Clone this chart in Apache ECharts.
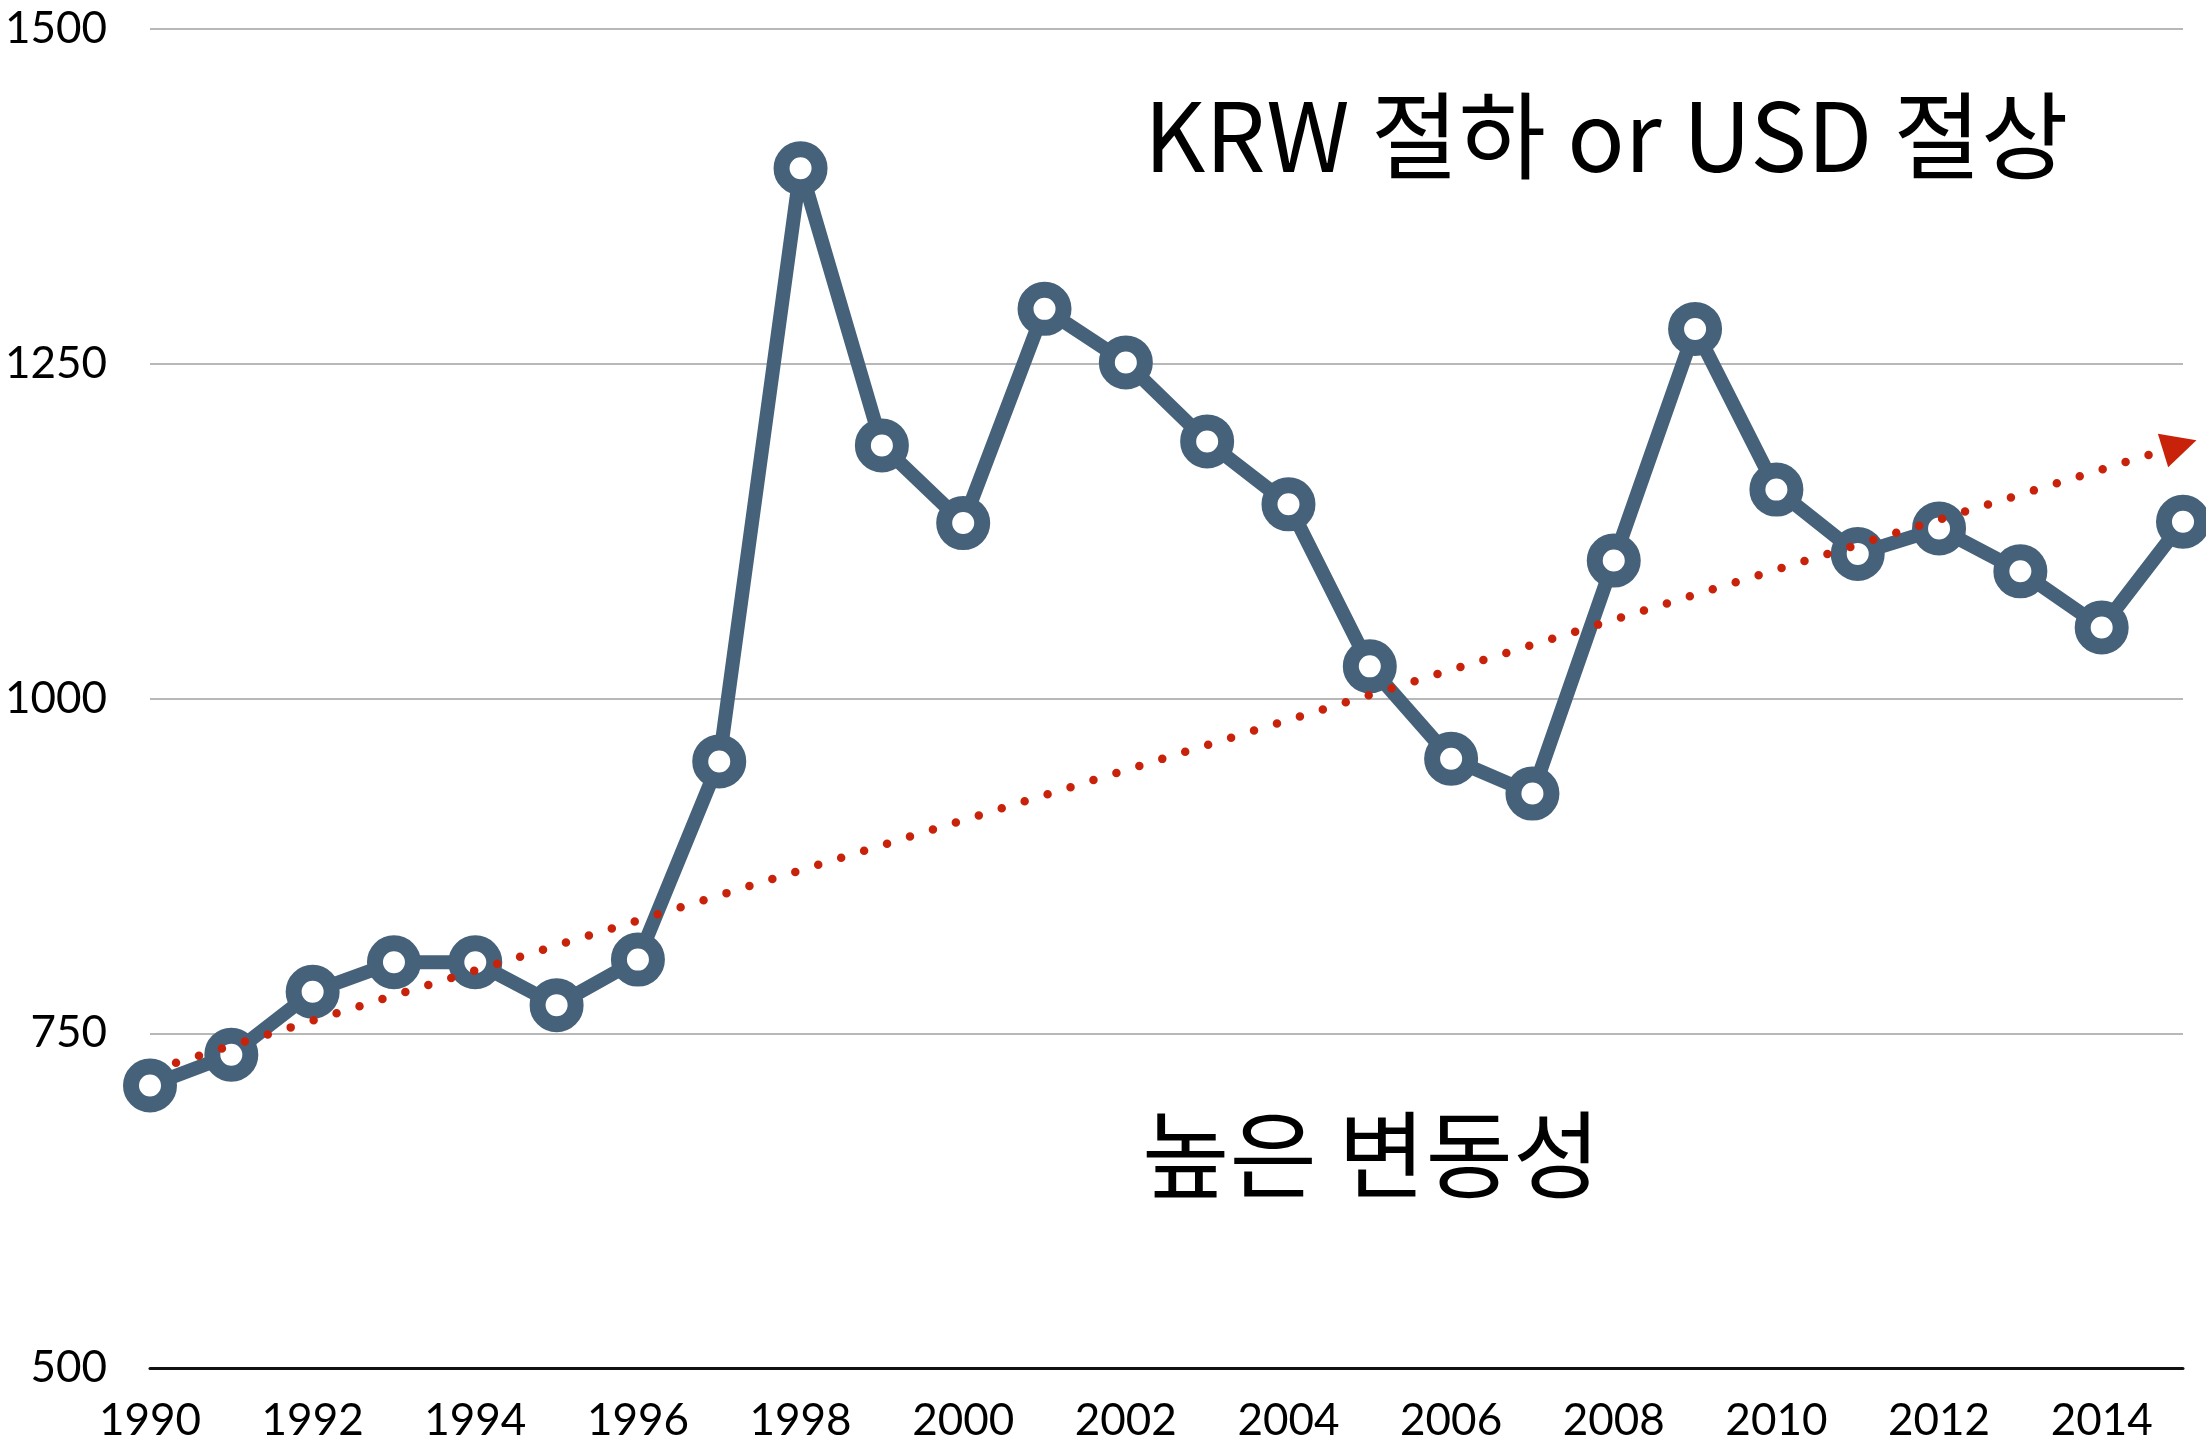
<!DOCTYPE html>
<html>
<head>
<meta charset="utf-8">
<script src="https://cdn.jsdelivr.net/npm/echarts@6/dist/echarts.min.js"></script>
<style>
html,body{margin:0;padding:0;background:#fff;}
#c{width:2206px;height:1443px;}
</style>
</head>
<body>
<div id="c"></div>
<script>
// ---- data ----
const years = [1990,1991,1992,1993,1994,1995,1996,1997,1998,1999,2000,2001,2002,2003,2004,2005,2006,2007,2008,2009,2010,2011,2012,2013,2014,2015];
const krwPerUsd = [711,734,781,803,803,771,805,953,1396,1189,1131,1291,1251,1192,1145,1024,955,929,1103,1276,1156,1108,1127,1095,1053,1132];
const trendStart = [1990.32, 728];
const trendEnd = [2014.96, 1189];
const yTicks = [500, 750, 1000, 1250, 1500];
const titleTop = 'KRW 절하 or USD 절상';
const titleBottom = '높은 변동성';

const blue = '#46627a';
const red = '#c8230a';

const chart = echarts.init(document.getElementById('c'), null, {renderer:'canvas'});
chart.setOption({
  animation:false,
  backgroundColor:'#fff',
  grid:{left:150,right:23,top:29,bottom:72,containLabel:false},
  xAxis:{
    type:'value',min:1990,max:2015,interval:2,
    axisLine:{show:true,lineStyle:{color:'#111',width:3}},
    axisTick:{show:false},
    splitLine:{show:false},
    axisLabel:{showMaxLabel:false,color:'#000',fontFamily:'Lato',fontSize:44,margin:31,formatter:v=>String(v)}
  },
  yAxis:{
    type:'value',min:yTicks[0],max:yTicks[yTicks.length-1],interval:250,
    axisLine:{show:false},
    axisTick:{show:false},
    splitLine:{show:true,lineStyle:{color:'#b8b8b8',width:2}},
    axisLabel:{color:'#000',fontFamily:'Lato',fontSize:44,margin:43,formatter:v=>String(v)}
  },
  series:[
    {
      type:'line',
      data:years.map((y,i)=>[y,krwPerUsd[i]]),
      z:2,
      lineStyle:{color:blue,width:14},
      symbol:'circle',
      symbolSize:38,
      itemStyle:{color:'#fff',borderColor:blue,borderWidth:16},
      emphasis:{disabled:true},
      silent:true
    },
    {
      type:'line',
      data:[trendStart,trendEnd],
      z:5,
      symbol:'none',
      lineStyle:{width:0,opacity:0},
      silent:true,
      markLine:{
        silent:true,
        animation:false,
        symbol:['none','triangle'],
        symbolSize:[35,35],
        label:{show:false},
        emphasis:{disabled:true},
        lineStyle:{color:red,width:8.5,type:[0,24],cap:'round',opacity:1},
        data:[[{coord:trendStart},{coord:trendEnd}]]
      }
    }
  ],
  graphic:[
    {type:'text',x:1144,y:136,style:{text:titleTop,font:'95px "Noto Sans CJK KR"',fill:'#000',verticalAlign:'middle'}},
    {type:'text',x:1142,y:1155,style:{text:titleBottom,font:'95px "Noto Sans CJK KR"',fill:'#000',verticalAlign:'middle'}}
  ]
});
</script>
</body>
</html>
